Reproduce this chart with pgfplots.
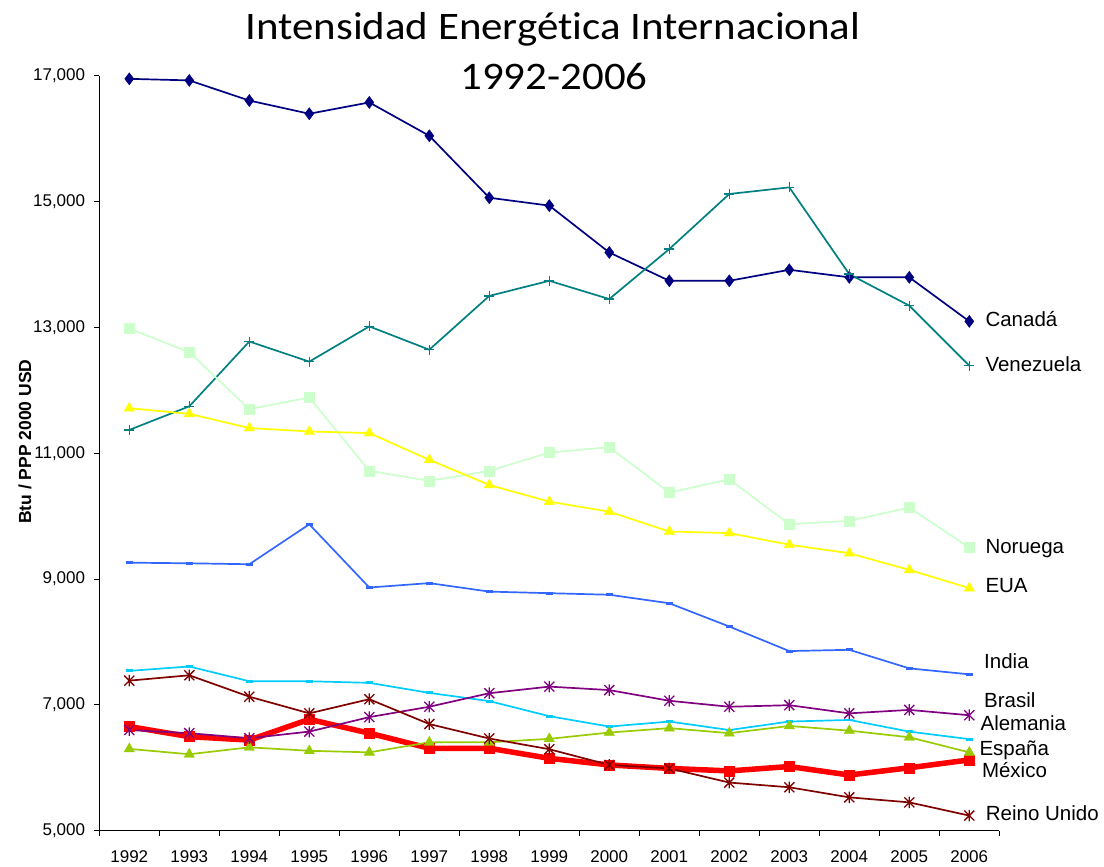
\documentclass[border=0pt]{standalone}
\usepackage{fontspec}
\setmainfont{Liberation Sans}
\newfontfamily\titlefont[Ligatures=NoCommon]{Carlito}
\usepackage{pgfplots}
\usepackage{pgfplotstable}
\pgfplotsset{compat=1.18}

\definecolor{cCan}{HTML}{000080}
\definecolor{cVen}{HTML}{008080}
\definecolor{cNor}{HTML}{CCFFCC}
\definecolor{cEUA}{HTML}{FFFF00}
\definecolor{cInd}{HTML}{3366FF}
\definecolor{cAle}{HTML}{00CCFF}
\definecolor{cBra}{HTML}{800080}
\definecolor{cRU}{HTML}{800000}
\definecolor{cMex}{HTML}{FF0000}
\definecolor{cEsp}{HTML}{99CC00}

\pgfdeclareplotmark{xstar}{%
  \pgfpathmoveto{\pgfqpoint{-\pgfplotmarksize}{-\pgfplotmarksize}}%
  \pgfpathlineto{\pgfqpoint{\pgfplotmarksize}{\pgfplotmarksize}}%
  \pgfpathmoveto{\pgfqpoint{-\pgfplotmarksize}{\pgfplotmarksize}}%
  \pgfpathlineto{\pgfqpoint{\pgfplotmarksize}{-\pgfplotmarksize}}%
  \pgfpathmoveto{\pgfqpoint{0pt}{-1.15\pgfplotmarksize}}%
  \pgfpathlineto{\pgfqpoint{0pt}{1.15\pgfplotmarksize}}%
  \pgfusepathqstroke}
\pgfdeclareplotmark{dash}{%
  \pgfpathrectangle{\pgfqpoint{-\pgfplotmarksize}{-0.4\pgfplotmarksize}}{\pgfqpoint{2\pgfplotmarksize}{0.8\pgfplotmarksize}}%
  \pgfusepathqfill}

\pgfplotstableread{
year Can Ven Nor EUA Ind Ale Bra RU Mex Esp
1992 16950 11370 12980 11715 9260 7540 6600 7385 6655 6300
1993 16925 11745 12605 11625 9250 7610 6550 7470 6495 6215
1994 16605 12775 11700 11400 9235 7375 6470 7130 6440 6325
1995 16395 12455 11885 11345 9870 7375 6575 6865 6770 6270
1996 16575 13015 10720 11320 8865 7350 6805 7090 6550 6245
1997 16045 12645 10560 10895 8935 7190 6970 6695 6310 6405
1998 15060 13500 10720 10495 8800 7060 7185 6465 6310 6405
1999 14935 13740 11010 10230 8775 6820 7290 6295 6150 6460
2000 14190 13450 11095 10070 8750 6655 7235 6045 6045 6560
2001 13740 14245 10375 9755 8615 6735 7065 5990 5990 6630
2002 13740 15120 10585 9730 8245 6600 6970 5765 5950 6550
2003 13915 15225 9870 9545 7855 6735 6995 5690 6020 6665
2004 13795 13845 9925 9410 7875 6760 6865 5530 5885 6590
2005 13795 13345 10135 9145 7580 6575 6920 5450 6000 6485
2006 13095 12390 9500 8855 7485 6455 6835 5240 6125 6245
}\datatable

\begin{document}
\begin{tikzpicture}
\useasboundingbox (0,0) rectangle (1104pt,867pt);
\begin{axis}[
  at={(99.3pt,36.3pt)}, anchor=south west,
  scale only axis, width=900pt, height=755pt,
  xmin=1991.5, xmax=2006.5, ymin=5000, ymax=17000,
  axis lines*=left,
  axis line style={black, line width=1.2pt},
  tick align=outside,
  scaled y ticks=false,
  xtick={1992,...,2006},
  xticklabels={1992,1993,1994,1995,1996,1997,1998,1999,2000,2001,2002,2003,2004,2005,2006},
  major x tick style={draw=none},
  minor xtick={1991.5,1992.5,...,2006.5},
  minor tick length=5pt,
  minor x tick style={black, line width=1pt},
  ytick={5000,7000,...,17000},
  major tick length=5pt,
  major y tick style={black, line width=1pt},
  /pgf/number format/.cd, 1000 sep={,}, assume math mode=true, /pgfplots/.cd,
  yticklabel style={font=\fontsize{17}{17}\selectfont, anchor=east, inner sep=0pt, xshift=-9pt},
  xticklabel style={font=\fontsize{17}{17}\selectfont, anchor=north, inner sep=0pt, yshift=-15pt},
  every axis plot/.append style={line width=1.7pt},
]
\addplot[color=cCan, mark=diamond*, mark size=6pt, mark options={line width=0.5pt}] table[x=year,y=Can]{\datatable};
\addplot[color=cVen, mark=+, mark size=5pt, mark options={line width=1.4pt}] table[x=year,y=Ven]{\datatable};
\addplot[color=cNor, mark=square*, mark size=5pt, mark options={line width=0.3pt}] table[x=year,y=Nor]{\datatable};
\addplot[color=cEUA, mark=triangle*, mark size=6pt, mark options={line width=0.3pt}] table[x=year,y=EUA]{\datatable};
\addplot[color=cInd, mark=dash, mark size=3.6pt] table[x=year,y=Ind]{\datatable};
\addplot[color=cMex, line width=5.5pt, mark=square*, mark size=5pt, mark options={line width=0.3pt}] table[x=year,y=Mex]{\datatable};
\addplot[color=cAle, mark=dash, mark size=3.6pt] table[x=year,y=Ale]{\datatable};
\addplot[color=cEsp, mark=triangle*, mark size=6pt, mark options={line width=0.3pt}] table[x=year,y=Esp]{\datatable};
\addplot[color=cBra, mark=xstar, mark size=5pt, mark options={line width=1.3pt}] table[x=year,y=Bra]{\datatable};
\addplot[color=cRU, mark=xstar, mark size=5pt, mark options={line width=1.3pt}] table[x=year,y=RU]{\datatable};
\end{axis}
\node[font=\titlefont\fontsize{39}{39}\selectfont, anchor=base, inner sep=0pt, xscale=1.1] at (553pt,827pt) {Intensidad Energética Internacional};
\node[font=\titlefont\fontsize{39}{39}\selectfont, anchor=base, inner sep=0pt, xscale=1.1] at (554pt,777.7pt) {1992-2006};
\node[font=\bfseries\fontsize{17.5}{17.5}\selectfont, rotate=90, inner sep=0pt] at (25pt,425.2pt) {Btu / PPP 2000 USD};
\begin{scope}[every node/.style={font=\fontsize{20.5}{20.5}\selectfont, anchor=base west, inner sep=0pt}]
\node at (985.3pt,540.7pt) {Canadá};
\node at (985.3pt,495.4pt) {Venezuela};
\node at (985.3pt,313pt) {Noruega};
\node at (985.3pt,274pt) {EUA};
\node at (984pt,198pt) {India};
\node at (984pt,159.7pt) {Brasil};
\node at (980.4pt,136.4pt) {Alemania};
\node at (979.3pt,111.4pt) {España};
\node at (981.8pt,89.7pt) {México};
\node at (985.7pt,46.4pt) {Reino Unido};
\end{scope}
\end{tikzpicture}
\end{document}
